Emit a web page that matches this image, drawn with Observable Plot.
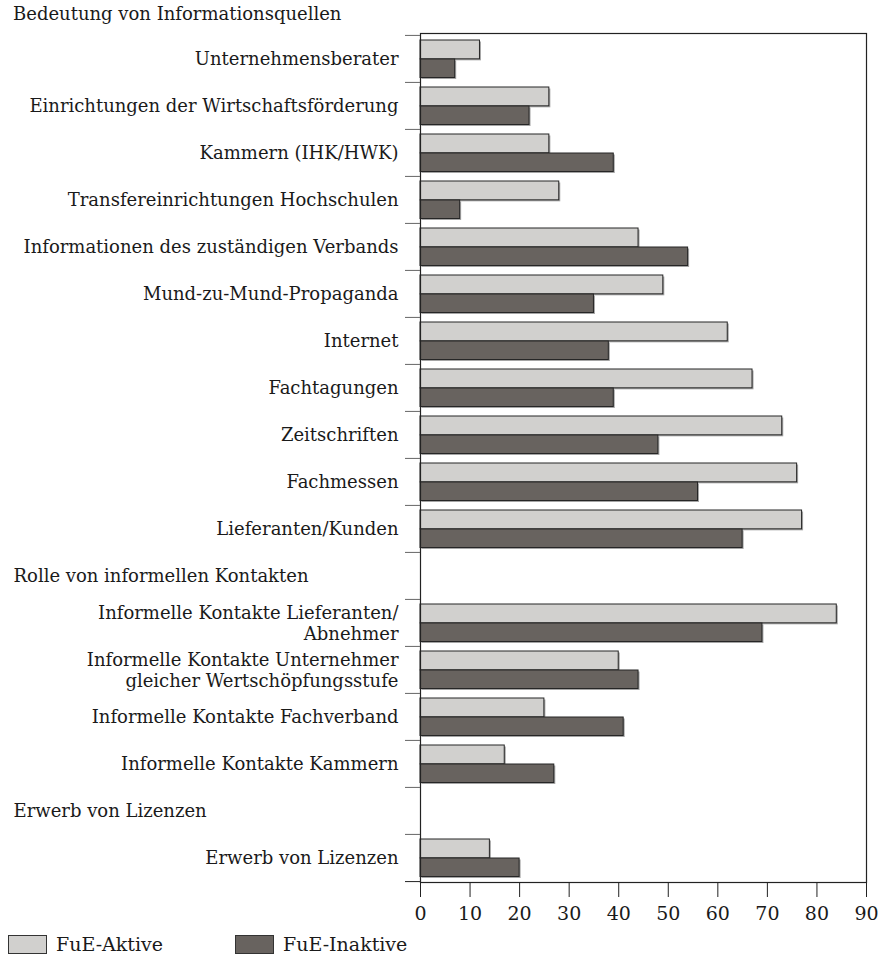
<!DOCTYPE html>
<html>
<head>
<meta charset="utf-8">
<script src="https://cdn.jsdelivr.net/npm/d3@7"></script>
<script src="https://cdn.jsdelivr.net/npm/@observablehq/plot@0.6"></script>
<style>
  html, body { margin: 0; padding: 0; background: #fff; }
  body { width: 880px; font-family: "DejaVu Serif", serif; color: #1a1a1a; }
  #title { height: 28px; line-height: 28px; padding-left: 13px; font-size: 18px; }
  #legend { position: relative; height: 33px; font-size: 19px; }
  .item { position: absolute; top: 6px; display: flex; align-items: center; }
  .sw { width: 37px; height: 17px; border: 1px solid #333; margin-right: 9px; }
</style>
</head>
<body>
<div id="title"></div>
<div id="chart"></div>
<div id="legend"></div>
<script>
// ---- data ----
const groups = ["Bedeutung von Informationsquellen", "Rolle von informellen Kontakten", "Erwerb von Lizenzen"];
const categories = [
  "Unternehmensberater",
  "Einrichtungen der Wirtschaftsförderung",
  "Kammern (IHK/HWK)",
  "Transfereinrichtungen Hochschulen",
  "Informationen des zuständigen Verbands",
  "Mund-zu-Mund-Propaganda",
  "Internet",
  "Fachtagungen",
  "Zeitschriften",
  "Fachmessen",
  "Lieferanten/Kunden",
  "Informelle Kontakte Lieferanten/\nAbnehmer",
  "Informelle Kontakte Unternehmer\ngleicher Wertschöpfungsstufe",
  "Informelle Kontakte Fachverband",
  "Informelle Kontakte Kammern",
  "Erwerb von Lizenzen"
];
const categoryGroup = [0,0,0,0,0,0,0,0,0,0,0,1,1,1,1,2];
const series = ["FuE-Aktive", "FuE-Inaktive"];
const aktive   = [12, 26, 26, 28, 44, 49, 62, 67, 73, 76, 77, 84, 40, 25, 17, 14];
const inaktive = [ 7, 22, 39,  8, 54, 35, 38, 39, 48, 56, 65, 69, 44, 41, 27, 20];
const xTicks = [0, 10, 20, 30, 40, 50, 60, 70, 80, 90];
const colors = ["#d1d0ce", "#68635f"];

// ---- rows (group headers 2 and 3 get their own row) ----
const rowKeys = [];
const headerKeys = [];
let lastGroup = 0;
categories.forEach((c, i) => {
  const g = categoryGroup[i];
  if (g !== lastGroup) {
    const hk = "H|" + groups[g];
    rowKeys.push(hk); headerKeys.push(hk);
    lastGroup = g;
  }
  rowKeys.push("C|" + c);
});
const rows = categories.map((c, i) => ({key: "C|" + c, a: aktive[i], b: inaktive[i]}));

// ---- layout ----
const W = 880, H = 899, mTop = 5, mBottom = 45, mLeft = 420, mRight = 14;
const bw = (H - mTop - mBottom) / rowKeys.length;
const padOuter = 5, split = 24, padBottom = 4.5;
const fontSize = 18;

document.getElementById("title").textContent = groups[0];

const shadow = {fill: "#a5a5a5", dx: 1.5, dy: 1.5};
const chart = Plot.plot({
  width: W, height: H,
  marginTop: mTop, marginBottom: mBottom, marginLeft: mLeft, marginRight: mRight,
  style: {fontFamily: "DejaVu Serif", fontSize: fontSize + "px", color: "#1a1a1a", background: "#fff"},
  x: {domain: [0, 90], label: null},
  y: {domain: rowKeys, padding: 0, label: null},
  marks: [
    // shadows
    Plot.barX(rows, {y: "key", x: "a", insetTop: padOuter, insetBottom: bw - split, ...shadow}),
    Plot.barX(rows, {y: "key", x: "b", insetTop: split, insetBottom: padBottom, ...shadow}),
    // bars
    Plot.barX(rows, {y: "key", x: "a", insetTop: padOuter, insetBottom: bw - split, fill: colors[0], stroke: "#262626", strokeWidth: 1}),
    Plot.barX(rows, {y: "key", x: "b", insetTop: split, insetBottom: padBottom, fill: colors[1], stroke: "#262626", strokeWidth: 1}),
    Plot.frame({stroke: "#222", strokeWidth: 1.2}),
    // y labels
    Plot.axisY({
      ticks: rowKeys.filter(k => k.startsWith("C|")),
      tickSize: 0, tickPadding: 22, label: null,
      tickFormat: k => k.slice(2),
      fontSize: fontSize, lineHeight: 1.12, fill: "#1a1a1a"
    }),
    // row boundary ticks
    Plot.axisY({ticks: rowKeys, tickSize: 15, label: null, tickFormat: () => "", dy: -bw / 2, stroke: "#666"}),
    Plot.axisY({ticks: [rowKeys[rowKeys.length - 1]], label: null, tickSize: 15, tickFormat: () => "", dy: bw / 2, stroke: "#222"}),
    // group headers
    Plot.text(headerKeys, {y: d => d, text: d => d.slice(2), frameAnchor: "left", textAnchor: "start", dx: -(mLeft - 13), fontSize: fontSize, fill: "#1a1a1a"}),
    // x axis
    Plot.axisX({ticks: xTicks, tickSize: 15, tickPadding: 9, label: null, fontSize: 19, stroke: "#222", fill: "#1a1a1a"})
  ]
});
document.getElementById("chart").appendChild(chart);

// legend
const legend = document.getElementById("legend");
const legendX = [8, 235];
series.forEach((s, i) => {
  const it = document.createElement("div");
  it.className = "item";
  it.style.left = legendX[i] + "px";
  const sw = document.createElement("div");
  sw.className = "sw";
  sw.style.background = colors[i];
  const tx = document.createElement("span");
  tx.textContent = s;
  it.appendChild(sw); it.appendChild(tx);
  legend.appendChild(it);
});
</script>
</body>
</html>
